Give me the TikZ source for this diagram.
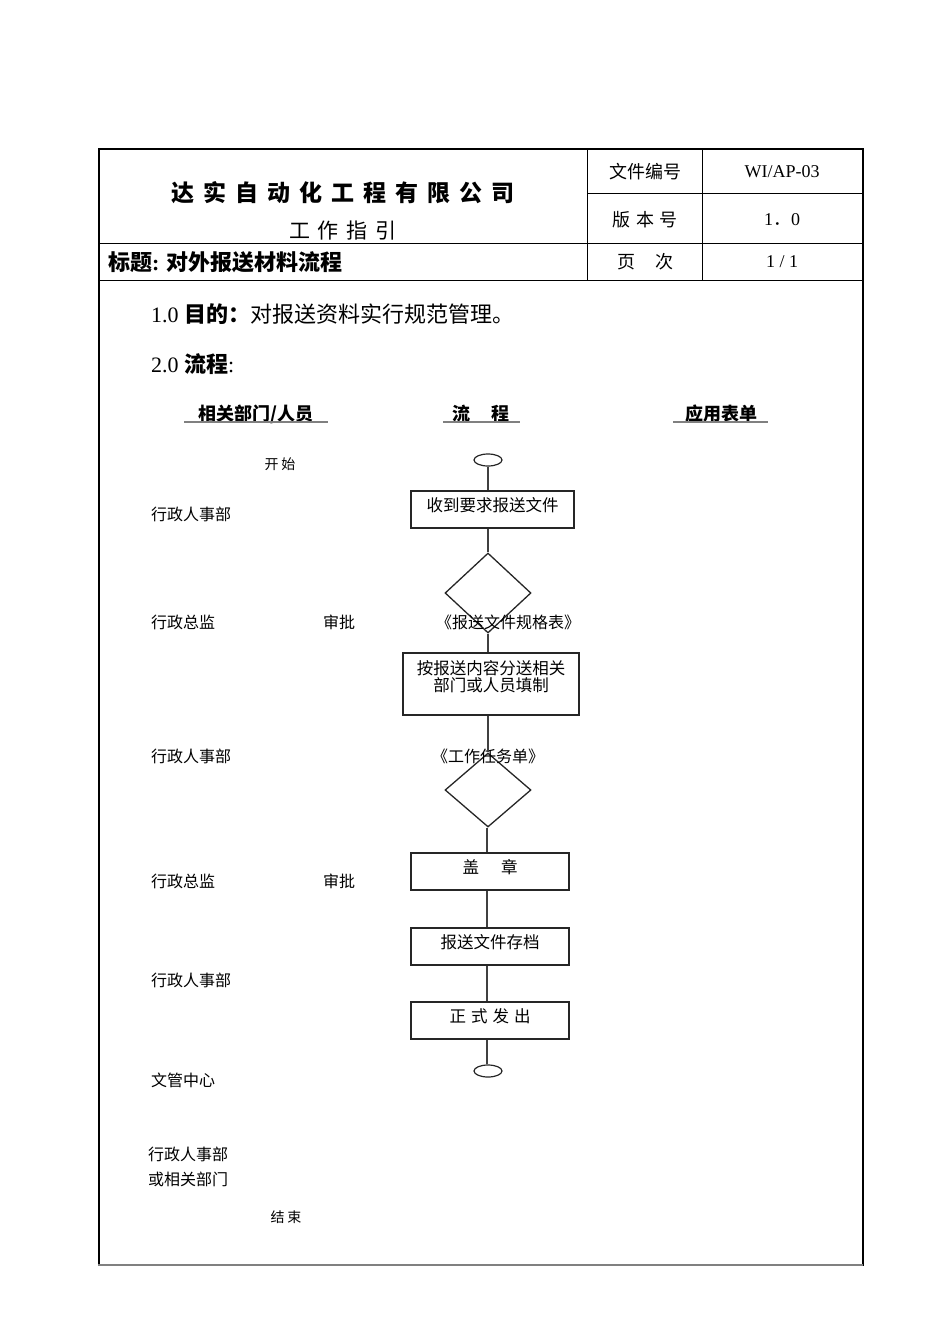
\documentclass[tikz,border=0pt]{standalone}
\usepackage{fontspec}
\setmainfont{Liberation Serif}
\newfontfamily\cjk{Noto Sans CJK SC}
\usetikzlibrary{shapes}
\usetikzlibrary{shapes.geometric}
\usetikzlibrary{positioning}
\newcommand{\gap}[1]{\hspace{#1pt}}
\tikzset{
    outer/.style = {line width=2pt,draw=black},
    tabline/.style = {line width=1pt,draw=black},
    uline/.style = {line width=1.2pt,draw=gray},
    procbox/.style = {rectangle, line width=1.3pt, draw=black!85, minimum width=158pt, minimum height=37pt, inner sep=0pt, text height=14pt, text depth=10pt, font=\cjk\fontsize{16.5}{17}\selectfont},
    decide/.style = {diamond, line width=1.3pt, draw=black!85, minimum width=86pt, minimum height=80pt, inner sep=0pt},
    term/.style = {ellipse, line width=1.2pt, draw=black!85, minimum width=28pt, minimum height=12pt, inner sep=0pt},
    flow/.style = {line width=1.3pt, draw=black!75},
    dept/.style = {anchor=west, inner sep=0pt, font=\cjk\fontsize{16}{17}\selectfont},
    formname/.style = {inner sep=0pt, font=\cjk\fontsize{16}{17}\selectfont},
    cell/.style = {inner sep=0pt, font=\cjk\fontsize{18}{20}\selectfont},
    latin/.style = {inner sep=0pt, font=\fontsize{18}{20}\selectfont},
    colhead/.style = {inner sep=0pt, font=\cjk\bfseries\fontsize{18}{20}\selectfont},
}

\begin{document}
\begin{tikzpicture}[x=1pt,y=-1pt]
\useasboundingbox (0,0) rectangle (950,1344);
% frame and header table
\draw[outer,line width=2.5pt] (99,149) -- (99,1266);
\draw[outer] (98,149) -- (863,149) -- (863,1266);
\draw[outer,draw=gray] (98,1265) -- (863,1265);
\draw[tabline] (587,149) -- (587,280);
\draw[tabline] (702,149) -- (702,280);
\draw[tabline] (587,193) -- (862,193);
\draw[tabline] (99,243) -- (862,243);
\draw[tabline] (99,280) -- (862,280);
%
\node[inner sep=0pt, font=\cjk\bfseries\fontsize{23}{25}\selectfont] at (343,193) (company)
    {达\gap{9}实\gap{9}自\gap{9}动\gap{9}化\gap{9}工\gap{9}程\gap{9}有\gap{9}限\gap{9}公\gap{9}司};
\node[inner sep=0pt, font=\cjk\fontsize{21}{23}\selectfont] at (343,231) (kind)
    {工\gap{8}作\gap{8}指\gap{8}引};
\node[anchor=west, inner sep=0pt, font=\cjk\bfseries\fontsize{22}{23}\selectfont] at (108,262) (topic)
    {标题{\rmfamily\bfseries:} 对外报送材料流程};
\node[cell] at (645,172) (docno) {文件编号};
\node[latin] at (782,172) (docnov) {WI/AP-03};
\node[cell] at (645,220) (ver) {版\gap{6}本\gap{6}号};
\node[latin] at (782,220) (verv) {1{\cjk ．}0};
\node[cell] at (645,262) (page) {页\gap{20}次};
\node[latin] at (782,262) (pagev) {1 / 1};
%
\node[anchor=west, inner sep=0pt, font=\fontsize{22}{24}\selectfont] at (151,314) (aim)
    {1.0 {\cjk\bfseries 目的：}{\cjk 对报送资料实行规范管理。}};
\node[anchor=west, inner sep=0pt, font=\fontsize{22}{24}\selectfont] at (151,364) (proc)
    {2.0 {\cjk\bfseries 流程}:};
%
\node[colhead] at (256,414) (hdept) {相关部门/人员};
\node[colhead] at (481,414) (hflow) {流\gap{21}程};
\node[colhead] at (721,414) (hform) {应用表单};
\draw[uline] (184,422) -- (328,422);
\draw[uline] (443,422) -- (520,422);
\draw[uline] (673,422) -- (768,422);
%
\node[inner sep=0pt, font=\cjk\fontsize{14}{15}\selectfont] at (280,464) (begin) {开\gap{3}始};
\node[inner sep=0pt, font=\cjk\fontsize{14}{15}\selectfont] at (286,1217) (finish) {结\gap{3}束};
%
\node[dept] at (151,514) (d1) {行政人事部};
\node[dept] at (151,622) (d2) {行政总监};
\node[dept] at (323,622) (a1) {审批};
\node[dept] at (151,756) (d3) {行政人事部};
\node[dept] at (151,881) (d4) {行政总监};
\node[dept] at (323,881) (a2) {审批};
\node[dept] at (151,980) (d5) {行政人事部};
\node[dept] at (151,1080) (d6) {文管中心};
\node[dept, align=left] at (148,1167) (d7) {行政人事部\\[8pt]或相关部门};
%
\node[term] at (488,460) (start) {};
\node[procbox, minimum width=163pt] at (492.5,509.5) (recv) {收到要求报送文件};
\node[decide] at (488,593) (chk1) {};
\node[procbox, minimum width=176pt, minimum height=62pt, text depth=0pt, align=center] at (491,684) (dist)
    {按报送内容分送相关\\部门或人员填制};
\node[decide, minimum height=74pt] at (488,790) (chk2) {};
\node[procbox] at (490,871.5) (seal) {盖\gap{22}章};
\node[procbox] at (490,946.5) (arch) {报送文件存档};
\node[procbox] at (490,1020.5) (issue) {正\gap{5}式\gap{5}发\gap{5}出};
\node[term] at (488,1071) (stop) {};
%
\node[formname] at (508,622) (f1) {《报送文件规格表》};
\node[formname] at (488,756) (f2) {《工作任务单》};
%
\draw[flow] (start.south) -- (start.south |- recv.north);
\draw[flow] (recv.south -| chk1.north) -- (chk1.north);
\draw[flow] (chk1.south) -- (chk1.south |- dist.north);
\draw[flow] (dist.south -| chk2.north) -- (chk2.north);
\draw[flow] ([xshift=-1pt]chk2.south) -- ([xshift=-1pt]chk2.south |- seal.north);
\draw[flow] ([xshift=-1pt]seal.south -| chk2.south) -- ([xshift=-1pt]arch.north -| chk2.south);
\draw[flow] ([xshift=-1pt]arch.south -| chk2.south) -- ([xshift=-1pt]issue.north -| chk2.south);
\draw[flow] ([xshift=-1pt]issue.south -| stop.north) -- ([xshift=-1pt]stop.north);

\end{tikzpicture}
\end{document}
